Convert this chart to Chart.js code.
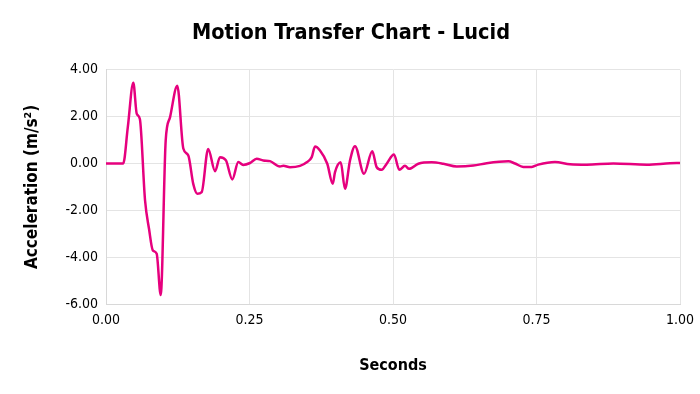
<!DOCTYPE html>
<html><head><meta charset="utf-8">
<script src="https://cdn.jsdelivr.net/npm/chart.js@4.4.0/dist/chart.umd.min.js"></script>
<style>html,body{margin:0;padding:0;background:#fff}#c{display:block}</style>
</head><body>
<canvas id="c" width="700" height="394"></canvas>
<script>
const chartTitle = "Motion Transfer Chart - Lucid";
const xTitle = "Seconds";
const yTitle = "Acceleration (m/s²)";
const times = [0.000,0.030,0.038,0.0476,0.0535,0.059,0.068,0.075,0.0814,0.0883,0.0953,0.104,0.1115,0.1242,0.1347,0.1434,0.152,0.159,0.1667,0.178,0.19,0.1986,0.209,0.22,0.2305,0.239,0.251,
0.2625,0.274,0.2857,0.303,0.309,0.3206,0.338,0.3497,0.3584,0.3641,0.3728,0.3855,0.395,0.399,0.4089,0.4164,0.4251,0.4338,0.4495,0.4639,0.4716,0.4803,0.489,0.5017,0.511,0.5209,0.5279,0.5441,0.5674,0.5876,0.611,0.64,0.6632,0.7009,0.7125,0.727,0.7416,0.7531,0.7822,0.8084,0.8375,0.8838,0.942,0.9826,1.0];
const accel = [0,0,1.55,3.45,2.13,1.9,-1.57,-2.8,-3.7,-3.85,-5.62,0.98,1.97,3.32,0.64,0.34,-0.87,-1.29,-1.22,0.62,-0.33,0.27,0.13,-0.68,0.06,-0.06,0.02,
0.2,0.13,0.1,-0.13,-0.1,-0.16,-0.1,0.05,0.27,0.72,0.55,-0.01,-0.87,-0.37,0.05,-1.08,0.13,0.74,-0.44,0.52,-0.16,-0.27,-0.01,0.38,-0.27,-0.1,-0.23,-0.01,0.05,-0.01,-0.13,-0.09,0.01,0.09,0.0,-0.15,-0.15,-0.05,0.06,-0.03,-0.05,0.0,-0.05,0.01,0.02];
const points = times.map((t,i)=>({x:t,y:accel[i]}));
const FONT = "'DejaVu Sans Condensed','DejaVu Sans',sans-serif";
new Chart(document.getElementById('c'), {
  type:'line',
  data:{datasets:[{data:points,borderColor:'#e6007e',borderWidth:2.5,pointRadius:0,cubicInterpolationMode:'monotone',fill:false}]},
  options:{
    responsive:false,animation:false,
    layout:{padding:{left:19,right:17,top:0,bottom:0}},
    plugins:{legend:{display:false},tooltip:{enabled:false},
      title:{display:true,text:chartTitle,color:'#000',font:{family:FONT,size:21.5,weight:'bold'},padding:{top:21,bottom:23}}},
    scales:{
      x:{type:'linear',min:0,max:1,
        ticks:{stepSize:0.25,color:'#000',font:{family:FONT,size:14},callback:v=>v.toFixed(2),maxRotation:0,padding:8},
        grid:{color:'#e4e4e4',drawTicks:false},border:{color:'#d8d8d8'},
        title:{display:true,text:xTitle,color:'#000',font:{family:FONT,size:16,weight:'bold'},padding:{top:10,bottom:19}},
        afterFit:s=>{s.height=90;s.paddingRight=20;s.paddingLeft=0;}},
      y:{min:-6,max:4,
        ticks:{stepSize:2,color:'#000',font:{family:FONT,size:14},callback:v=>v.toFixed(2),padding:8},
        grid:{color:'#e4e4e4',drawTicks:false},border:{color:'#d8d8d8'},
        title:{display:true,text:yTitle,color:'#000',font:{family:FONT,size:17,weight:'bold'},padding:{top:3,bottom:4}},
        afterFit:s=>{s.width=87;}}
    }
  }
});
</script>
</body></html>
